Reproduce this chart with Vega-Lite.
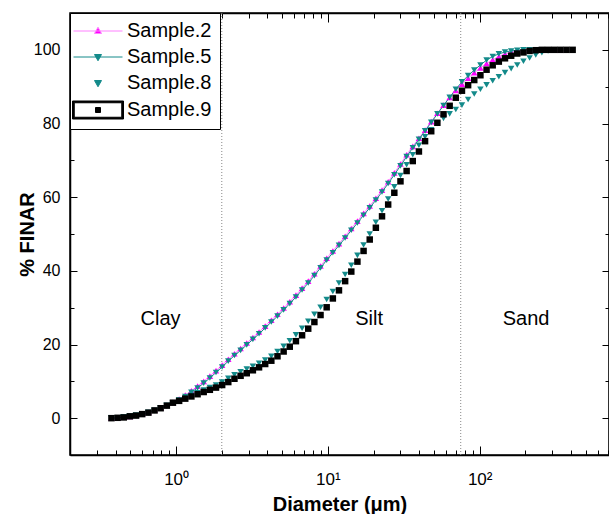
{
  "$schema": "https://vega.github.io/schema/vega-lite/v6.json",
  "width": 539,
  "height": 442,
  "autosize": {"type": "none"},
  "padding": {"left": 70, "top": 13, "right": 0, "bottom": 59},
  "background": "white",
  "config": {
    "font": "Liberation Sans",
    "view": {"stroke": "black", "strokeWidth": 1.5},
    "axis": {"domainColor": "black", "domainWidth": 1.5, "tickColor": "black", "tickWidth": 1, "labelColor": "black", "titleColor": "black", "grid": false, "labelFont": "Liberation Sans", "titleFont": "Liberation Sans"}
  },
  "datasets": {
    "psd": [
      {"d": 0.375, "S2": 0.0, "S5": 0.0, "S8": 0.0, "S9": 0.0},
      {"d": 0.412, "S2": 0.1, "S5": 0.1, "S8": 0.1, "S9": 0.1},
      {"d": 0.452, "S2": 0.3, "S5": 0.3, "S8": 0.2, "S9": 0.2},
      {"d": 0.496, "S2": 0.5, "S5": 0.5, "S8": 0.5, "S9": 0.5},
      {"d": 0.545, "S2": 0.8, "S5": 0.8, "S8": 0.7, "S9": 0.7},
      {"d": 0.598, "S2": 1.2, "S5": 1.1, "S8": 1.1, "S9": 1.1},
      {"d": 0.657, "S2": 1.6, "S5": 1.5, "S8": 1.5, "S9": 1.5},
      {"d": 0.721, "S2": 2.2, "S5": 2.1, "S8": 2.1, "S9": 2.1},
      {"d": 0.791, "S2": 2.8, "S5": 2.7, "S8": 2.7, "S9": 2.7},
      {"d": 0.869, "S2": 3.5, "S5": 3.4, "S8": 3.4, "S9": 3.4},
      {"d": 0.953, "S2": 4.3, "S5": 4.2, "S8": 4.2, "S9": 4.2},
      {"d": 1.047, "S2": 5.2, "S5": 4.9, "S8": 4.8, "S9": 4.7},
      {"d": 1.149, "S2": 6.3, "S5": 5.9, "S8": 5.4, "S9": 5.3},
      {"d": 1.261, "S2": 7.4, "S5": 7.0, "S8": 6.2, "S9": 5.9},
      {"d": 1.385, "S2": 8.7, "S5": 8.2, "S8": 6.9, "S9": 6.5},
      {"d": 1.52, "S2": 10.0, "S5": 9.5, "S8": 7.6, "S9": 7.1},
      {"d": 1.669, "S2": 11.4, "S5": 10.9, "S8": 8.3, "S9": 7.7},
      {"d": 1.832, "S2": 12.9, "S5": 12.4, "S8": 9.0, "S9": 8.3},
      {"d": 2.011, "S2": 14.4, "S5": 13.9, "S8": 9.8, "S9": 9.0},
      {"d": 2.207, "S2": 16.0, "S5": 15.5, "S8": 10.8, "S9": 9.8},
      {"d": 2.423, "S2": 17.5, "S5": 17.0, "S8": 11.8, "S9": 10.7},
      {"d": 2.66, "S2": 18.9, "S5": 18.4, "S8": 12.6, "S9": 11.5},
      {"d": 2.92, "S2": 20.4, "S5": 19.9, "S8": 13.3, "S9": 12.2},
      {"d": 3.205, "S2": 21.9, "S5": 21.4, "S8": 14.1, "S9": 13.0},
      {"d": 3.519, "S2": 23.4, "S5": 22.9, "S8": 14.9, "S9": 13.8},
      {"d": 3.863, "S2": 25.0, "S5": 24.5, "S8": 15.8, "S9": 14.7},
      {"d": 4.24, "S2": 26.6, "S5": 26.1, "S8": 16.8, "S9": 15.6},
      {"d": 4.655, "S2": 28.2, "S5": 27.7, "S8": 18.1, "S9": 16.8},
      {"d": 5.11, "S2": 29.9, "S5": 29.4, "S8": 19.5, "S9": 18.1},
      {"d": 5.61, "S2": 31.6, "S5": 31.1, "S8": 21.0, "S9": 19.4},
      {"d": 6.158, "S2": 33.4, "S5": 32.9, "S8": 22.6, "S9": 20.9},
      {"d": 6.76, "S2": 35.3, "S5": 34.8, "S8": 24.4, "S9": 22.5},
      {"d": 7.421, "S2": 37.2, "S5": 36.7, "S8": 26.3, "S9": 24.3},
      {"d": 8.147, "S2": 39.2, "S5": 38.7, "S8": 28.2, "S9": 26.1},
      {"d": 8.943, "S2": 41.3, "S5": 40.8, "S8": 30.1, "S9": 28.0},
      {"d": 9.817, "S2": 43.4, "S5": 42.9, "S8": 32.2, "S9": 30.1},
      {"d": 10.78, "S2": 45.4, "S5": 44.9, "S8": 34.4, "S9": 32.5},
      {"d": 11.83, "S2": 47.4, "S5": 46.9, "S8": 36.7, "S9": 34.7},
      {"d": 12.99, "S2": 49.4, "S5": 48.9, "S8": 39.0, "S9": 37.2},
      {"d": 14.26, "S2": 51.5, "S5": 51.0, "S8": 41.5, "S9": 39.8},
      {"d": 15.65, "S2": 53.5, "S5": 53.0, "S8": 44.2, "S9": 42.5},
      {"d": 17.18, "S2": 55.6, "S5": 55.1, "S8": 47.0, "S9": 45.4},
      {"d": 18.86, "S2": 57.6, "S5": 57.1, "S8": 50.0, "S9": 48.5},
      {"d": 20.7, "S2": 59.7, "S5": 59.2, "S8": 53.2, "S9": 51.7},
      {"d": 22.73, "S2": 61.9, "S5": 61.4, "S8": 56.3, "S9": 54.8},
      {"d": 24.95, "S2": 64.2, "S5": 63.7, "S8": 59.5, "S9": 58.0},
      {"d": 27.39, "S2": 66.6, "S5": 66.1, "S8": 62.8, "S9": 61.2},
      {"d": 30.07, "S2": 69.0, "S5": 68.5, "S8": 65.9, "S9": 64.3},
      {"d": 33.01, "S2": 71.5, "S5": 71.0, "S8": 68.8, "S9": 67.1},
      {"d": 36.24, "S2": 73.8, "S5": 73.4, "S8": 71.5, "S9": 69.8},
      {"d": 39.78, "S2": 76.0, "S5": 75.7, "S8": 74.1, "S9": 72.4},
      {"d": 43.67, "S2": 78.2, "S5": 78.0, "S8": 76.4, "S9": 75.2},
      {"d": 47.94, "S2": 80.5, "S5": 80.3, "S8": 78.3, "S9": 77.9},
      {"d": 52.62, "S2": 82.8, "S5": 82.6, "S8": 80.0, "S9": 80.2},
      {"d": 57.77, "S2": 85.0, "S5": 84.9, "S8": 81.4, "S9": 82.5},
      {"d": 63.41, "S2": 87.1, "S5": 87.1, "S8": 82.6, "S9": 84.8},
      {"d": 69.61, "S2": 89.0, "S5": 89.3, "S8": 83.8, "S9": 87.0},
      {"d": 76.42, "S2": 90.7, "S5": 91.3, "S8": 85.0, "S9": 88.9},
      {"d": 83.9, "S2": 92.3, "S5": 93.0, "S8": 86.5, "S9": 90.4},
      {"d": 92.09, "S2": 93.8, "S5": 94.5, "S8": 88.0, "S9": 91.8},
      {"d": 101.1, "S2": 95.1, "S5": 95.9, "S8": 89.3, "S9": 93.1},
      {"d": 111.0, "S2": 96.3, "S5": 97.2, "S8": 90.5, "S9": 94.6},
      {"d": 121.8, "S2": 97.3, "S5": 98.2, "S8": 91.6, "S9": 95.8},
      {"d": 133.7, "S2": 98.2, "S5": 98.9, "S8": 92.7, "S9": 96.8},
      {"d": 146.8, "S2": 98.9, "S5": 99.4, "S8": 93.8, "S9": 97.7},
      {"d": 161.2, "S2": 99.4, "S5": 99.7, "S8": 94.9, "S9": 98.4},
      {"d": 176.8, "S2": 99.8, "S5": 99.9, "S8": 95.9, "S9": 99.0},
      {"d": 194.2, "S2": 100, "S5": 100, "S8": 96.9, "S9": 99.3},
      {"d": 213.2, "S2": 100, "S5": 100, "S8": 97.8, "S9": 99.7},
      {"d": 234.1, "S2": 100, "S5": 100, "S8": 98.6, "S9": 99.9},
      {"d": 256.9, "S2": 100, "S5": 100, "S8": 99.2, "S9": 100},
      {"d": 282.1, "S2": 100, "S8": 99.7, "S9": 100},
      {"d": 309.6, "S2": 100, "S8": 100, "S9": 100},
      {"d": 339.9, "S2": 100, "S9": 100},
      {"d": 373.1, "S9": 100},
      {"d": 409.6, "S9": 100}
    ]
  },
  "resolve": {
    "axis": {"x": "independent", "y": "independent"},
    "scale": {"color": "independent", "shape": "independent", "size": "independent", "fill": "independent", "stroke": "independent"}
  },
  "layer": [
    {
      "data": {"values": [{"d": 2}, {"d": 75}]},
      "mark": {"type": "rule", "strokeDash": [1, 2], "color": "#888888", "strokeWidth": 1},
      "encoding": {
        "x": {"field": "d", "type": "quantitative", "scale": {"type": "log", "domain": [0.2, 711], "nice": false}, "axis": null}
      }
    },
    {
      "data": {"name": "psd"},
      "transform": [
        {"fold": ["S2", "S5"], "as": ["s", "v"]},
        {"filter": "isValid(datum.v)"}
      ],
      "mark": {"type": "line", "strokeWidth": 1, "clip": true},
      "encoding": {
        "x": {
          "field": "d", "type": "quantitative",
          "scale": {"type": "log", "domain": [0.2, 711], "nice": false},
          "axis": {
            "orient": "bottom",
            "values": [0.3, 0.4, 0.5, 0.6, 0.7, 0.8, 0.9, 1, 2, 3, 4, 5, 6, 7, 8, 9, 10, 20, 30, 40, 50, 60, 70, 80, 90, 100, 200, 300, 400, 500, 600, 700],
            "labelExpr": "datum.value == 1 ? '10⁰' : datum.value == 10 ? '10¹' : datum.value == 100 ? '10²' : ''",
            "tickSize": {"condition": {"test": "datum.value == 1 || datum.value == 10 || datum.value == 100", "value": -9}, "value": -5},
            "labelFontSize": 17,
            "labelPadding": 25,
            "labelOverlap": false,
            "title": "Diameter (μm)",
            "titleFontSize": 20,
            "titleFontWeight": "bold",
            "titlePadding": 3
          }
        },
        "y": {
          "field": "v", "type": "quantitative",
          "scale": {"domain": [-10, 110], "nice": false},
          "axis": {
            "orient": "left",
            "values": [0, 10, 20, 30, 40, 50, 60, 70, 80, 90, 100],
            "labelExpr": "datum.value % 20 == 0 ? datum.label : ''",
            "tickSize": {"condition": {"test": "datum.value % 20 == 0", "value": -7}, "value": -4},
            "labelFontSize": 16,
            "labelPadding": 17,
            "labelOverlap": false,
            "title": "% FINAR",
            "titleFontSize": 20,
            "titleFontWeight": "bold",
            "titlePadding": -4
          }
        },
        "color": {"field": "s", "type": "nominal", "scale": {"domain": ["S2", "S5"], "range": ["#ff80ff", "#138a8a"]}, "legend": null}
      }
    },
    {
      "data": {"name": "psd"},
      "transform": [
        {"fold": ["S2", "S5", "S8", "S9"], "as": ["s", "v"]},
        {"filter": "isValid(datum.v)"}
      ],
      "mark": {"type": "point", "filled": true, "opacity": 1},
      "encoding": {
        "x": {
          "field": "d", "type": "quantitative",
          "scale": {"type": "log", "domain": [0.2, 711], "nice": false},
          "axis": {
            "orient": "top",
            "values": [0.3, 0.4, 0.5, 0.6, 0.7, 0.8, 0.9, 1, 2, 3, 4, 5, 6, 7, 8, 9, 10, 20, 30, 40, 50, 60, 70, 80, 90, 100, 200, 300, 400, 500, 600, 700],
            "labels": false,
            "tickSize": {"condition": {"test": "datum.value == 1 || datum.value == 10 || datum.value == 100", "value": -9}, "value": -5},
            "title": null
          }
        },
        "y": {
          "field": "v", "type": "quantitative",
          "scale": {"domain": [-10, 110], "nice": false},
          "axis": {
            "orient": "right",
            "values": [0, 10, 20, 30, 40, 50, 60, 70, 80, 90, 100],
            "labels": false,
            "tickSize": {"condition": {"test": "datum.value % 20 == 0", "value": -7}, "value": -4},
            "title": null
          }
        },
        "color": {"field": "s", "type": "nominal", "scale": {"domain": ["S2", "S5", "S8", "S9"], "range": ["#ff00ff", "#138a8a", "#138a8a", "#000000"]}, "legend": null},
        "shape": {"field": "s", "type": "nominal", "scale": {"domain": ["S2", "S5", "S8", "S9"], "range": ["triangle-up", "triangle-down", "triangle-down", "square"]}, "legend": null},
        "size": {"field": "s", "type": "nominal", "scale": {"domain": ["S2", "S5", "S8", "S9"], "range": [42, 42, 42, 26]}, "legend": null},
        "order": {"field": "s", "type": "ordinal"}
      }
    },
    {
      "data": {"values": [{"d": 0.79, "v": 25.3, "t": "Clay"}, {"d": 18.7, "v": 25.3, "t": "Silt"}, {"d": 202, "v": 25.3, "t": "Sand"}]},
      "mark": {"type": "text", "fontSize": 20, "font": "Liberation Sans", "baseline": "alphabetic", "align": "center", "color": "black"},
      "encoding": {
        "x": {"field": "d", "type": "quantitative", "scale": {"type": "log", "domain": [0.2, 711], "nice": false}, "axis": null},
        "y": {"field": "v", "type": "quantitative", "scale": {"domain": [-10, 110], "nice": false}, "axis": null},
        "text": {"field": "t"}
      }
    },
    {
      "data": {"values": [{"series": "Sample.2"}, {"series": "Sample.5"}, {"series": "Sample.8"}, {"series": "Sample.9"}]},
      "mark": {"type": "point", "filled": true, "opacity": 0},
      "encoding": {
        "shape": {
          "field": "series", "type": "nominal",
          "scale": {"domain": ["Sample.2", "Sample.5", "Sample.8", "Sample.9"], "range": [
            "M-4.9,0H4.9M0,-0.75L0.7,0.5H-0.7Z",
            "M-4.9,0H4.9M0,0.75L0.7,-0.5H-0.7Z",
            "M0,0.75L0.7,-0.5H-0.7Z",
            "M-5.1,-1.8H5.1V1.8H-5.1ZM-4.75,-1.45V1.45H4.75V-1.45ZM-0.5,-0.5H0.5V0.5H-0.5Z"
          ]},
          "legend": {
            "title": null, "orient": "none", "legendX": 0, "legendY": 0,
            "padding": 8, "strokeColor": "black", "fillColor": "white",
            "symbolSize": 100, "symbolStrokeWidth": 1, "symbolOffset": 10, "labelOffset": 19,
            "labelFontSize": 20, "labelFont": "Liberation Sans", "labelColor": "black",
            "rowPadding": 6, "symbolOpacity": 1
          }
        },
        "fill": {"field": "series", "type": "nominal", "scale": {"domain": ["Sample.2", "Sample.5", "Sample.8", "Sample.9"], "range": ["#ff00ff", "#138a8a", "#138a8a", "#000000"]}, "legend": {"title": null}},
        "stroke": {"field": "series", "type": "nominal", "scale": {"domain": ["Sample.2", "Sample.5", "Sample.8", "Sample.9"], "range": ["#ff80ff", "#138a8a", "#138a8a", "#000000"]}, "legend": {"title": null}}
      }
    }
  ]
}
